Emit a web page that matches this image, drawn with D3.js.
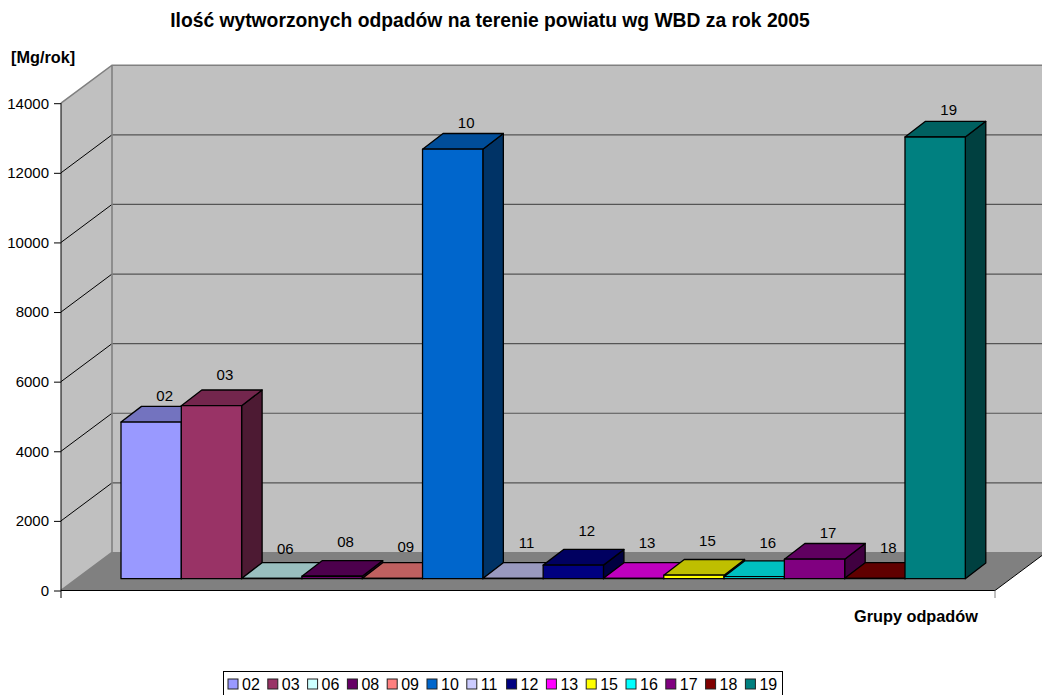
<!DOCTYPE html>
<html><head><meta charset="utf-8">
<script src="https://cdn.jsdelivr.net/npm/d3@7"></script>
<style>html,body{margin:0;padding:0;background:#fff;overflow:hidden}svg{display:block}text{font-family:"Liberation Sans",Arial,sans-serif;fill:#000}</style>
</head><body><svg id="c" width="1042" height="695"></svg>
<script>
const categories=["02","03","06","08","09","10","11","12","13","15","16","17","18","19"];
const values=[4500,4970,8,70,8,12340,8,390,10,100,60,560,10,12690];
const colors=["#9999FF","#993366","#CCFFFF","#660066","#FF8080","#0066CC","#CCCCFF","#000080","#FF00FF","#FFFF00","#00FFFF","#800080","#800000","#008080"];
const labelLift=[-3,2,0,5,2,-3,6,5,6,5,4,-3,1,-2];
const yTicks=[0,2000,4000,6000,8000,10000,12000,14000];
const W=1042,H=695,depthX=51,depthY=38,barDX=20.5,barDY=15.7,floorInsetY=11.8;
const svg=d3.select("#c");
const y=d3.scaleLinear().domain([0,14000]).range([590.5,103.2]);
const x=d3.scaleBand().domain(categories).range([121,965.3]);
const x0=61,x1=995,line=(p)=>"M"+p.map(q=>q.join(",")).join("L")+"Z";
// walls
svg.append("path").attr("d",line([[x0+depthX,y(14000)-depthY],[W+10,y(14000)-depthY],[W+10,y(0)-depthY],[x0+depthX,y(0)-depthY]])).attr("fill","#C0C0C0");
svg.append("path").attr("d",line([[x0,y(14000)],[x0+depthX,y(14000)-depthY],[x0+depthX,y(0)-depthY],[x0,y(0)]])).attr("fill","#C0C0C0");
svg.append("path").attr("d",line([[x0,y(0)],[x0+depthX,y(0)-depthY],[x1+depthX,y(0)-depthY],[x1,y(0)]])).attr("fill","#808080");
// grid
yTicks.slice(1,-1).forEach(t=>{
  svg.append("line").attr("x1",x0).attr("y1",y(t)).attr("x2",x0+depthX).attr("y2",y(t)-depthY).attr("stroke","#000").attr("stroke-width",1);
  svg.append("line").attr("x1",x0+depthX).attr("y1",y(t)-depthY).attr("x2",W).attr("y2",y(t)-depthY).attr("stroke","#555").attr("stroke-width",1.2);
});
svg.append("path").attr("d",`M${x0},${y(14000)}L${x0+depthX},${y(14000)-depthY}L${W},${y(14000)-depthY}M${x0+depthX},${y(14000)-depthY}V${y(0)-depthY}M${x0},${y(0)}L${x0+depthX},${y(0)-depthY}`).attr("fill","none").attr("stroke","#808080").attr("stroke-width",1.6);
svg.append("line").attr("x1",x0+depthX).attr("y1",y(0)-depthY).attr("x2",W).attr("y2",y(0)-depthY).attr("stroke","#808080");
// axes
const axis=d3.axisLeft(y).tickValues(yTicks).tickSize(7).tickPadding(5).tickFormat(d3.format("d"));
const ag=svg.append("g").attr("transform",`translate(${x0},0)`).call(axis);
ag.select(".domain").remove();
ag.selectAll("text").attr("font-size",15).attr("font-family","Liberation Sans").attr("fill","#000");
ag.selectAll("line").attr("stroke","#000");
svg.append("line").attr("x1",x0).attr("y1",y(14000)).attr("x2",x0).attr("y2",598).attr("stroke","#000").attr("stroke-width",1);
svg.append("line").attr("x1",x0).attr("y1",y(0)).attr("x2",x1).attr("y2",y(0)).attr("stroke","#000");
svg.append("line").attr("x1",x1).attr("y1",y(0)).attr("x2",x1+depthX).attr("y2",y(0)-depthY).attr("stroke","#000");
svg.append("line").attr("x1",x1).attr("y1",y(0)).attr("x2",x1).attr("y2",598).attr("stroke","#808080");
// bars
const base=y(0)-floorInsetY, h=v=>y(0)-y(v);
const shade=(c,k)=>{const r=d3.rgb(c);return d3.rgb(r.r*k,r.g*k,r.b*k).formatHex();};
const bars=svg.append("g").selectAll("g").data(categories).join("g");
bars.each(function(c,i){
  const g=d3.select(this),l=x(c),r=l+x.bandwidth(),b=base,t=base-h(values[i]);
  const s={stroke:"#000","stroke-width":1.3,"stroke-linejoin":"round"};
  const add=(pts,fill)=>{const p=g.append("path").attr("d",line(pts)).attr("fill",fill);Object.entries(s).forEach(([k,v])=>p.attr(k,v));};
  add([[r,b],[r+barDX,b-barDY],[r+barDX,t-barDY],[r,t]],shade(colors[i],.5));
  add([[l,t],[l+barDX,t-barDY],[r+barDX,t-barDY],[r,t]],shade(colors[i],.75));
  add([[l,b],[r,b],[r,t],[l,t]],colors[i]);
});
// data labels
svg.append("g").selectAll("text").data(categories).join("text")
  .attr("x",c=>x(c)+x.bandwidth()/2+13.5)
  .attr("y",(c,i)=>base-h(values[i])-barDY-8.5-labelLift[i])
  .attr("text-anchor","middle").attr("font-size",15).text(c=>c);
// titles
svg.append("text").attr("x",490).attr("y",27).attr("text-anchor","middle").attr("font-weight","bold").attr("font-size",19.3).text("Ilość wytworzonych odpadów na terenie powiatu wg WBD za rok 2005");
svg.append("text").attr("x",11).attr("y",63).attr("font-weight","bold").attr("font-size",16.3).text("[Mg/rok]");
svg.append("text").attr("x",854).attr("y",621.5).attr("font-weight","bold").attr("font-size",16.3).text("Grupy odpadów");
// legend
const lg=svg.append("g");
lg.append("rect").attr("x",223.5).attr("y",671.5).attr("width",559).attr("height",30).attr("fill","#fff").attr("stroke","#000");
const lx=d3.scalePoint().domain(categories).range([228,745.4]);
categories.forEach((c,i)=>{
  lg.append("rect").attr("x",lx(c)).attr("y",679).attr("width",10).attr("height",10).attr("fill",colors[i]).attr("stroke","#222").attr("stroke-width",1);
  lg.append("text").attr("x",lx(c)+14).attr("y",690).attr("font-size",16).text(c);
});
</script></body></html>
